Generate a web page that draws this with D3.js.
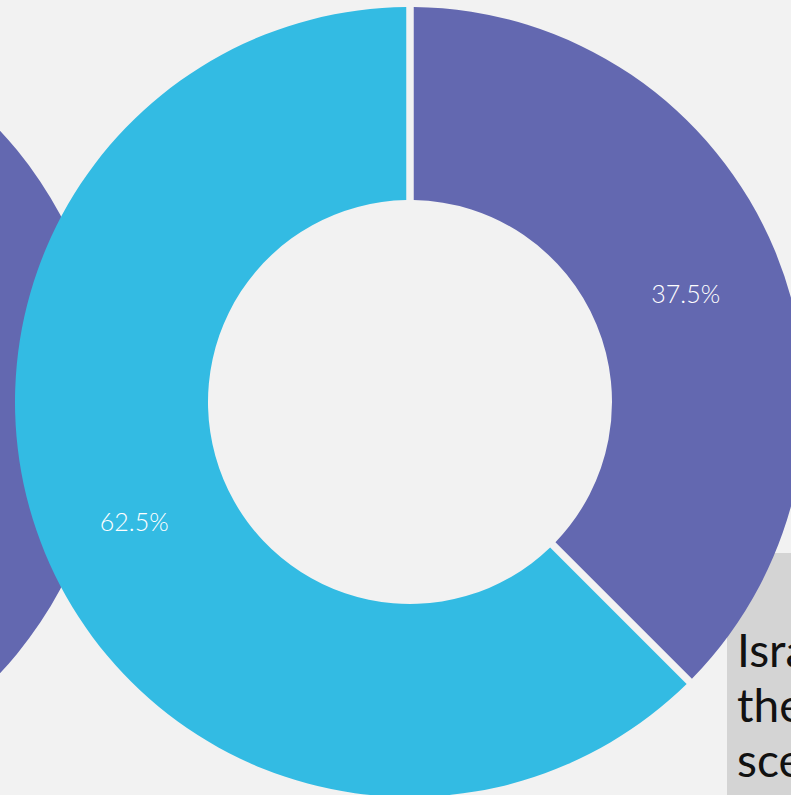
<!DOCTYPE html>
<html>
<head>
<meta charset="utf-8">
<script src="https://cdn.jsdelivr.net/npm/d3@7"></script>
<style>
  html, body { margin: 0; padding: 0; background: #f2f2f2; overflow: hidden; }
  svg { display: block; }
</style>
</head>
<body>
<svg id="chart" width="791" height="795"></svg>
<script>
// Share of responses for the featured donut (clockwise from 12 o'clock)
const categories = ["Group A", "Group B"];
const shares = [37.5, 62.5];
const shareLabels = ["37.5%", "62.5%"];
const colors = ["#6368b0", "#33bbe3"];

// Neighbouring donut on the slide, mostly out of frame
const neighbourShares = [50, 50];

// Caption panel lines
const captionLines = ["Israel", "the", "scenario"];

const W = 791, H = 795;
const svg = d3.select("#chart");

svg.append("rect").attr("width", W).attr("height", H).attr("fill", "#f2f2f2");

// Caption panel sits underneath the donuts
const caption = svg.append("g");
caption.append("rect")
  .attr("x", 727).attr("y", 553)
  .attr("width", W - 727).attr("height", H - 553)
  .attr("fill", "#d4d4d4");
caption.selectAll("text")
  .data(captionLines)
  .join("text")
  .attr("x", 737)
  .attr("y", (d, i) => 667 + i * 55)
  .attr("font-family", "Lato, 'Open Sans', sans-serif")
  .attr("font-size", 46)
  .attr("fill", "#111")
  .text(d => d);

const outerR = 395, innerR = 202;
const pie = d3.pie().sort(null).value(d => d);
const color = d3.scaleOrdinal().domain(d3.range(shares.length)).range(colors);

// Neighbour donut (left)
const left = svg.append("g").attr("transform", "translate(-290,402)");
left.selectAll("path")
  .data(pie(neighbourShares))
  .join("path")
  .attr("d", d3.arc().innerRadius(innerR).outerRadius(397))
  .attr("fill", (d, i) => color(i));

// Featured donut: constant-width gaps between slices
const arc = d3.arc()
  .innerRadius(innerR).outerRadius(outerR)
  .padRadius(100).padAngle(0.075);
const labelArc = d3.arc().innerRadius(innerR).outerRadius(outerR);

const g = svg.append("g").attr("transform", "translate(410,402)");
const arcs = pie(shares);
g.selectAll("path")
  .data(arcs)
  .join("path")
  .attr("d", arc)
  .attr("fill", (d, i) => color(i));

g.selectAll("text")
  .data(arcs)
  .join("text")
  .attr("transform", d => `translate(${labelArc.centroid(d)})`)
  .attr("text-anchor", "middle")
  .attr("dominant-baseline", "central")
  .attr("dy", "0.2em")
  .attr("font-family", "Lato, 'Open Sans', sans-serif")
  .attr("font-weight", 300)
  .attr("font-size", 25)
  .attr("fill", "#ffffff")
  .text((d, i) => shareLabels[i]);
</script>
</body>
</html>
